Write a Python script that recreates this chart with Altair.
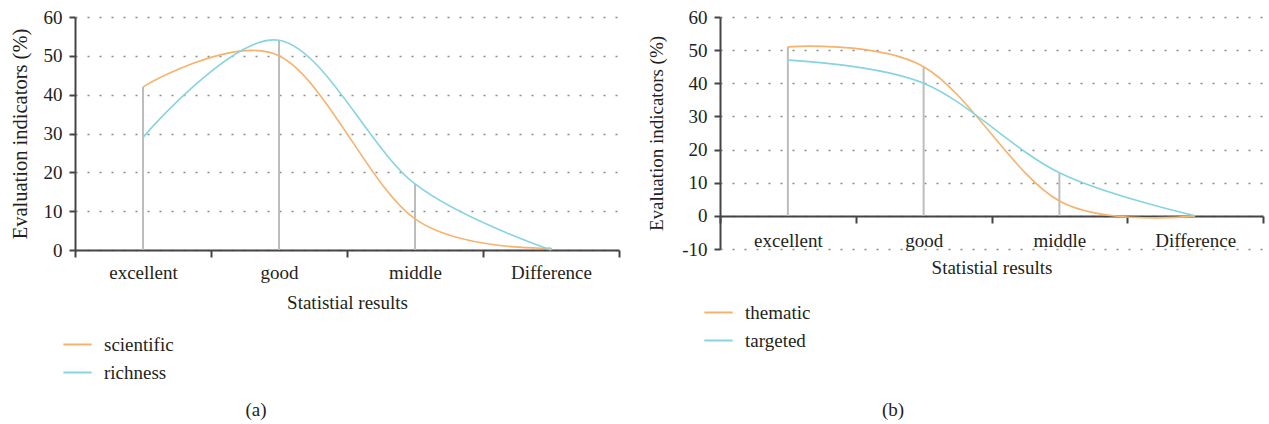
import altair as alt
import pandas as pd

cats = ["excellent", "good", "middle", "Difference"]

a_names = ["scientific", "richness"]
a_scientific = [42, 50, 8, 0.5]
a_richness = [29, 54, 17, 0]

b_names = ["thematic", "targeted"]
b_thematic = [51, 45, 4.5, 0]
b_targeted = [47, 40, 13, 0]

FONT = "Liberation Serif"
ORANGE = "#F7B26B"
BLUE = "#86D4E1"
AXIS = "#444444"
TEXT = "#231F20"


def panel(names, s1, s2, ydomain, yvalues, width, height, xoffset,
          ytitle_size, ytitle_pad, xlabel_pad, xtitle_pad, legend_x, legend_y,
          caption, cap_x, cap_y):
    df = pd.DataFrame({
        "cat": cats * 2,
        "series": [names[0]] * 4 + [names[1]] * 4,
        "value": s1 + s2,
    })
    drop = pd.DataFrame({
        "cat": cats,
        "top": [max(a, b) for a, b in zip(s1, s2)],
        "base": [0] * 4,
    })
    xscale = alt.Scale(type="band", domain=cats, paddingInner=0, paddingOuter=0)
    xaxis = alt.Axis(
        title="Statistial results", labelAngle=0, tickBand="extent",
        domainColor=AXIS, domainWidth=2, tickColor=AXIS, tickWidth=2, tickSize=7,
        labelFont=FONT, labelFontSize=19, labelColor=TEXT, labelPadding=xlabel_pad,
        titleFont=FONT, titleFontSize=19, titleColor=TEXT, titleFontWeight="normal",
        titlePadding=xtitle_pad, grid=False, offset=xoffset,
    )
    yscale = alt.Scale(domain=ydomain, nice=False, zero=False)
    yaxis = alt.Axis(
        title="Evaluation indicators (%)", values=yvalues,
        labelExpr="'' + datum.value",
        domainColor=AXIS, domainWidth=2, tickColor=AXIS, tickWidth=2, tickSize=6,
        labelFont=FONT, labelFontSize=19, labelColor=TEXT, labelPadding=7,
        titleFont=FONT, titleFontSize=ytitle_size, titleColor=TEXT,
        titleFontWeight="normal", titlePadding=ytitle_pad,
        grid=True, gridColor="#8a8a8a", gridDash=[2, 10], gridWidth=1.6,
    )
    rules = alt.Chart(drop).mark_rule(color="#BDBDBD", strokeWidth=2).encode(
        x=alt.X("cat:N", scale=xscale, axis=xaxis, bandPosition=0.5),
        y=alt.Y("base:Q", scale=yscale, axis=yaxis),
        y2="top:Q",
    )
    lines = alt.Chart(df).mark_line(interpolate="cardinal", strokeWidth=1.6).encode(
        x=alt.X("cat:N", scale=xscale, axis=xaxis, bandPosition=0.5),
        y=alt.Y("value:Q", scale=yscale, axis=yaxis),
        color=alt.Color(
            "series:N",
            scale=alt.Scale(domain=names, range=[ORANGE, BLUE]),
            legend=alt.Legend(
                title=None, orient="none", legendX=legend_x, legendY=legend_y,
                symbolType="stroke", symbolSize=800, symbolStrokeWidth=2,
                labelFont=FONT, labelFontSize=19, labelColor=TEXT,
                labelOffset=11, rowPadding=2,
            ),
        ),
        detail="series:N",
    )
    cap = alt.Chart(pd.DataFrame({"t": [caption]})).mark_text(
        font=FONT, fontSize=19, color=TEXT, align="center", baseline="middle"
    ).encode(x=alt.value(cap_x), y=alt.value(cap_y), text="t:N")
    return alt.layer(rules, lines, cap).properties(width=width, height=height)


pa = panel(a_names, a_scientific, a_richness, [0, 60], [0, 10, 20, 30, 40, 50, 60],
           544, 233, 0, 20.5, 13, 6, 11, -13, 312, "(a)", 181, 393)
pb = panel(b_names, b_thematic, b_targeted, [-10, 60],
           [-10, 0, 10, 20, 30, 40, 50, 60],
           543, 232, -33, 19, 15, 8, 8, -17, 280, "(b)", 173, 393)

chart = alt.hconcat(pa, pb, spacing=27).resolve_scale(
    color="independent", x="independent", y="independent"
).resolve_legend(color="independent").configure_view(stroke=None).properties(
    padding={"left": 10, "top": 8, "right": 5, "bottom": 5},
    background="white",
)

chart.save("out.html", embed_options={"renderer": "svg", "actions": False})
